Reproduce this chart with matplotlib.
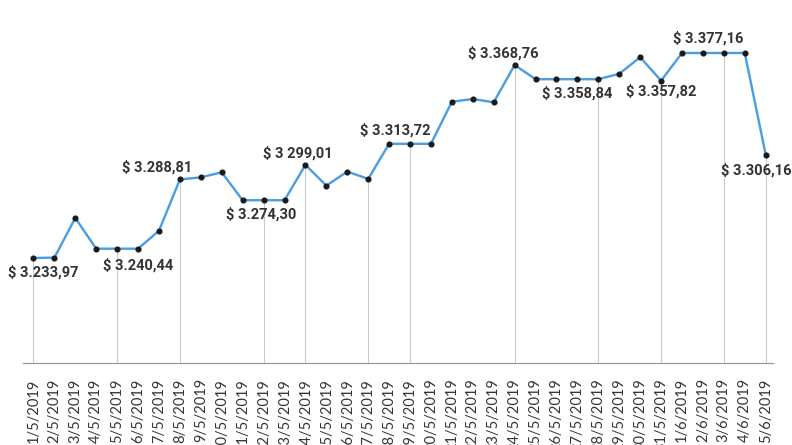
import matplotlib
matplotlib.use("Agg")
import matplotlib.pyplot as plt

# ---- data ----
dates = [f"{d}/5/2019" for d in range(1, 32)] + [f"{d}/6/2019" for d in range(1, 6)]
values = [3233.97, 3234.20, 3261.90, 3240.44, 3240.44, 3240.44, 3253.00, 3288.81,
          3290.30, 3293.80, 3274.30, 3274.30, 3274.30, 3299.01, 3284.50, 3294.30,
          3289.20, 3313.72, 3313.72, 3313.72, 3343.10, 3345.00, 3342.70, 3368.76,
          3358.84, 3358.84, 3358.84, 3358.84, 3362.60, 3374.20, 3357.82, 3377.16,
          3377.16, 3377.16, 3377.16, 3306.16]
drop_idx = [0, 4, 7, 11, 13, 16, 18, 23, 27, 30, 33, 35]
label_idx = [0, 4, 7, 11, 13, 18, 23, 27, 30, 33, 35]
label_txt = ["$ 3.233,97", "$ 3.240,44", "$ 3.288,81", "$ 3.274,30", "$ 3 299,01",
             "$ 3.313,72", "$ 3.368,76", "$ 3.358,84", "$ 3.357,82", "$ 3.377,16",
             "$ 3.306,16"]
# label offsets in pixels (dx, dy) relative to the point
label_off = [(10, -14), (21, -17), (-23, 12), (-2, -14), (-8, 12), (-15, 13),
             (-11, 12), (-21, -14), (0, -11), (-16, 15), (-9, -16)]

fig = plt.figure(figsize=(7.92, 4.45), dpi=100)
ax = fig.add_axes([23 / 792, 82 / 445, 750 / 792, 343 / 445])

x = list(range(len(dates)))
ymin = 3160.6
ax.set_ylim(ymin, 3400.2)
ax.set_xlim(-0.5, 35.35)

# drop lines
ax.vlines([x[i] for i in drop_idx], ymin, [values[i] for i in drop_idx],
          colors="#c5ccd4", linewidth=0.8, zorder=1)

ax.plot(x, values, color="#4a9de0", linewidth=1.7, zorder=2)
ax.plot(x, values, linestyle="none", marker="o", markersize=3.4,
        color="#1a1a1a", zorder=3)

for i, t, (dx, dy) in zip(label_idx, label_txt, label_off):
    ax.annotate(t, (x[i], values[i]), xytext=(dx, dy), textcoords="offset pixels",
                ha="center", va="center", fontsize=10.5, family="Roboto",
                fontweight="bold", color="#333333", zorder=4)

for s in ["top", "right", "left"]:
    ax.spines[s].set_visible(False)
ax.spines["bottom"].set_color("#9a9a9a")
ax.spines["bottom"].set_linewidth(0.9)
ax.set_yticks([])
ax.set_xticks(x)
ax.set_xticklabels(dates, rotation=90, fontsize=10.5, family="Lato", color="#353535")
ax.tick_params(axis="x", length=0, pad=11)

fig.savefig("out.png", dpi=100)
